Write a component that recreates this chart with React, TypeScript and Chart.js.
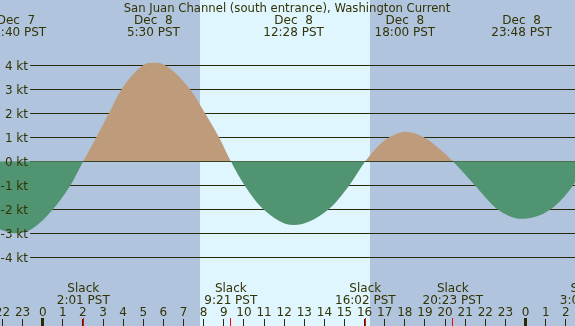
import React, { useEffect, useRef } from 'react';
import { Chart, registerables } from 'chart.js';

Chart.register(...registerables);

// ---- data (hours relative to Dec 8 00:00 PST, knots) ----
const TITLE = 'San Juan Channel (south entrance), Washington Current';

const curveHours = [-2.3, -1.333, -0.5, 0.51, 1.38, 2.017, 2.67, 3.29, 3.92, 5.0, 5.5, 6.08, 7.32, 8.07, 8.76, 9.35, 10.03, 10.97, 12.467, 14.21, 15.24, 16.033, 16.78, 17.28, 18.0, 18.94, 19.7, 20.383, 21.48, 22.6, 23.8, 25.25, 26.36, 27.02];
const curveKnots = [-2.8, -3.0, -2.8, -2.0, -1.0, 0, 1.0, 2.0, 3.0, 4.0, 4.1, 4.0, 3.0, 2.0, 1.0, 0, -1.0, -2.0, -2.66, -2.0, -1.0, 0, 0.72, 1.02, 1.23, 1.0, 0.53, 0, -1.0, -2.0, -2.4, -2.0, -1.0, 0];

const extremeHours = [-1.333, 5.5, 12.467, 18.0, 23.8];
const extremeDates = ['Dec  7', 'Dec  8', 'Dec  8', 'Dec  8', 'Dec  8'];
const extremeTimes = ['22:40 PST', '5:30 PST', '12:28 PST', '18:00 PST', '23:48 PST'];

const slackHours = [2.017, 9.35, 16.033, 20.383, 27.02];
const slackTimes = ['2:01 PST', '9:21 PST', '16:02 PST', '20:23 PST', '3:01 PST'];

const yTicks = [4, 3, 2, 1, 0, -1, -2, -3, -4];
const yTickLabels = ['4 kt', '3 kt', '2 kt', '1 kt', '0 kt', '-1 kt', '-2 kt', '-3 kt', '-4 kt'];

const hourTicks = [-2, -1, 0, 1, 2, 3, 4, 5, 6, 7, 8, 9, 10, 11, 12, 13, 14, 15, 16, 17, 18, 19, 20, 21, 22, 23, 24, 25, 26, 27];
const hourLabels = ['22', '23', '0', '1', '2', '3', '4', '5', '6', '7', '8', '9', '10', '11', '12', '13', '14', '15', '16', '17', '18', '19', '20', '21', '22', '23', '0', '1', '2', '3'];
const midnightHours = [0, 24];
const daylightHours = [7.82, 16.27];

// ---- styles ----
const NIGHT = '#b0c4de';
const DAY = '#dff6ff';
const TAN = '#bd9b7b';
const GREEN = '#519471';
const INK = '#333305';
const GRID = '#2a2a08';
const FONT = '12px "DejaVu Sans"';
const TITLE_FONT = '11.65px "DejaVu Sans"';

const overlay = {
  id: 'overlay',
  beforeDraw(chart: any) {
    const { ctx, scales } = chart;
    const x = scales.x, y = scales.y;
    const W = chart.width, H = chart.height;
    ctx.save();
    ctx.fillStyle = NIGHT;
    ctx.fillRect(0, 0, W, H);
    const d0 = Math.round(x.getPixelForValue(daylightHours[0]));
    const d1 = Math.round(x.getPixelForValue(daylightHours[1]));
    ctx.fillStyle = DAY;
    ctx.fillRect(d0, 0, d1 - d0, H);
    ctx.fillStyle = GRID;
    for (const v of yTicks) {
      const py = Math.round(y.getPixelForValue(v));
      ctx.fillRect(30, py, W - 30, 1);
    }
    ctx.restore();
  },
  afterDatasetsDraw(chart: any) {
    const { ctx, scales } = chart;
    const x = scales.x, y = scales.y;
    const H = chart.height;
    ctx.save();
    ctx.font = FONT;
    ctx.fillStyle = INK;
    ctx.textBaseline = 'alphabetic';
    // y labels
    ctx.textAlign = 'right';
    yTicks.forEach((v, i) => {
      const py = y.getPixelForValue(v);
      ctx.fillText(yTickLabels[i], 28, py + 4.5);
    });
    // title
    ctx.textAlign = 'center';
    ctx.font = TITLE_FONT;
    ctx.fillText(TITLE, 287, 11.5);
    ctx.font = FONT;
    // extremes at top
    extremeHours.forEach((h, i) => {
      const px = x.getPixelForValue(h);
      ctx.fillText(extremeDates[i], px, 24);
      ctx.fillText(extremeTimes[i], px, 36);
    });
    // slack labels
    slackHours.forEach((h, i) => {
      const px = x.getPixelForValue(h);
      ctx.fillText('Slack', px, 291.7);
      ctx.fillText(slackTimes[i], px, 303.7);
    });
    // hour labels and ticks
    hourTicks.forEach((h, i) => {
      const px = x.getPixelForValue(h);
      ctx.fillStyle = INK;
      ctx.fillText(hourLabels[i], px, 315.7);
      ctx.fillStyle = GRID;
      ctx.fillRect(Math.round(px - 0.5), 319, 1, H - 319);
    });
    midnightHours.forEach((h) => {
      const px = x.getPixelForValue(h);
      ctx.fillStyle = '#2a2a00';
      ctx.fillRect(Math.round(px - 1.5), 318, 3, H - 318);
    });
    slackHours.forEach((h) => {
      const px = x.getPixelForValue(h);
      ctx.fillStyle = '#ff0000';
      ctx.fillRect(Math.round(px - 0.5), 318, 1, H - 318);
    });
    ctx.restore();
  },
};

export default function App() {
  const ref = useRef<HTMLCanvasElement | null>(null);
  useEffect(() => {
    document.body.style.margin = '0';
    const canvas = ref.current;
    if (!canvas) return;
    const pts = curveHours.map((h, i) => ({ x: h, y: curveKnots[i] }));
    const chart = new Chart(canvas, {
      type: 'line',
      data: {
        datasets: [
          {
            data: pts,
            borderWidth: 0,
            borderColor: 'rgba(0,0,0,0)',
            pointRadius: 0,
            cubicInterpolationMode: 'monotone',
            fill: { target: { value: 0 }, above: TAN, below: GREEN },
          } as any,
        ],
      },
      options: {
        animation: false,
        responsive: false,
        devicePixelRatio: 1,
        layout: { padding: 0 },
        events: [],
        scales: {
          x: { type: 'linear', display: false, min: -42.7 / 20.12, max: (575 - 42.7) / 20.12 },
          y: { type: 'linear', display: false, min: -(326 - 161.2) / 24, max: 161.2 / 24 },
        },
        plugins: {
          legend: { display: false },
          tooltip: { enabled: false },
          title: { display: false },
        },
      },
      plugins: [overlay],
    });
    return () => chart.destroy();
  }, []);
  return <canvas ref={ref} width={575} height={326} style={{ display: 'block', width: 575, height: 326 }} />;
}
